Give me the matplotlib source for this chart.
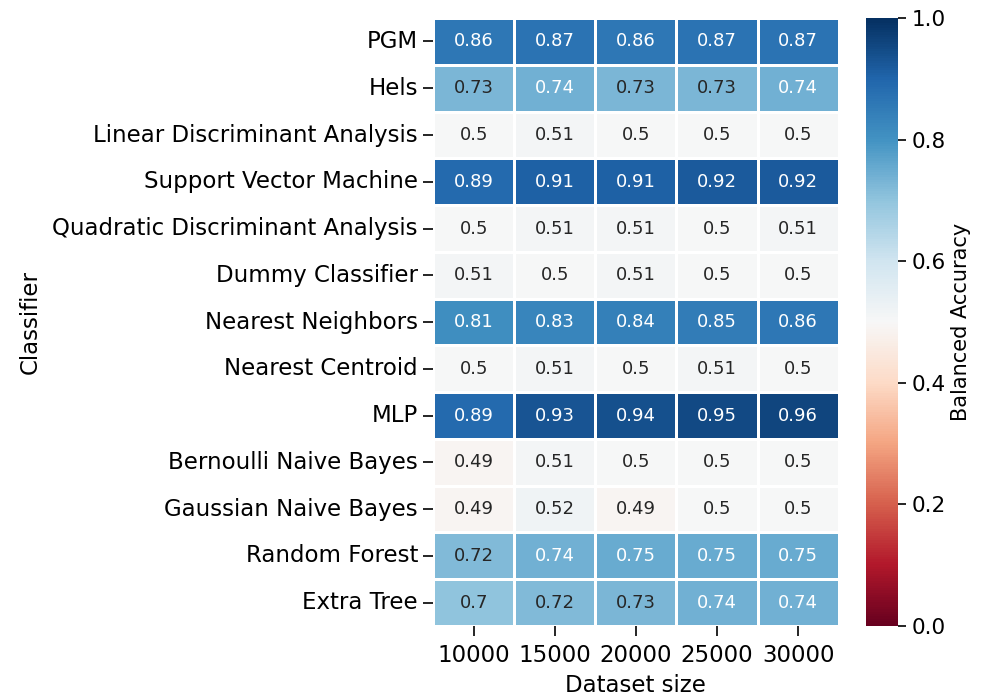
import numpy as np
import matplotlib
matplotlib.use("Agg")
import matplotlib.pyplot as plt
import seaborn as sns
import pandas as pd

classifiers = [
    "PGM", "Hels", "Linear Discriminant Analysis", "Support Vector Machine",
    "Quadratic Discriminant Analysis", "Dummy Classifier", "Nearest Neighbors",
    "Nearest Centroid", "MLP", "Bernoulli Naive Bayes", "Gaussian Naive Bayes",
    "Random Forest", "Extra Tree",
]
dataset_sizes = [10000, 15000, 20000, 25000, 30000]

pgm = [0.86, 0.87, 0.86, 0.87, 0.87]
hels = [0.73, 0.74, 0.73, 0.73, 0.74]
lda = [0.50, 0.51, 0.50, 0.50, 0.50]
svm = [0.89, 0.91, 0.91, 0.92, 0.92]
qda = [0.50, 0.51, 0.51, 0.50, 0.51]
dummy = [0.51, 0.50, 0.51, 0.50, 0.50]
knn = [0.81, 0.83, 0.84, 0.85, 0.86]
centroid = [0.50, 0.51, 0.50, 0.51, 0.50]
mlp = [0.89, 0.93, 0.94, 0.95, 0.96]
bernoulli_nb = [0.49, 0.51, 0.50, 0.50, 0.50]
gaussian_nb = [0.49, 0.52, 0.49, 0.50, 0.50]
random_forest = [0.72, 0.74, 0.75, 0.75, 0.75]
extra_tree = [0.70, 0.72, 0.73, 0.74, 0.74]

rows = [pgm, hels, lda, svm, qda, dummy, knn, centroid, mlp,
        bernoulli_nb, gaussian_nb, random_forest, extra_tree]
df = pd.DataFrame(rows, index=classifiers, columns=dataset_sizes)

fig = plt.figure(figsize=(9.89, 6.97), dpi=100)
ax = fig.add_axes([0.438, 0.102, 0.410, 0.872])
cax = fig.add_axes([0.876, 0.102, 0.032, 0.872])

sns.heatmap(df, ax=ax, cbar_ax=cax, cmap="RdBu", vmin=0, vmax=1,
            annot=True, fmt="g", linewidths=1, linecolor="white",
            annot_kws={"fontsize": 13},
            cbar_kws={"label": "Balanced Accuracy"})

ax.set_xlabel("Dataset size", fontsize=16.5, labelpad=5)
ax.set_ylabel("Classifier", fontsize=16.5, labelpad=8)
ax.tick_params(axis="y", labelsize=16.5, length=7, width=1.2, pad=4)
ax.tick_params(axis="x", labelsize=16.5, length=7, width=1.2, pad=6)
ax.set_yticklabels(classifiers, rotation=0)
ax.set_xticklabels([str(s) for s in dataset_sizes], rotation=0)

cax.tick_params(labelsize=15.5, length=6, width=1.2)
cax.yaxis.label.set_size(15)
cax.set_yticks([0.0, 0.2, 0.4, 0.6, 0.8, 1.0])

fig.savefig("out.png", dpi=100)
